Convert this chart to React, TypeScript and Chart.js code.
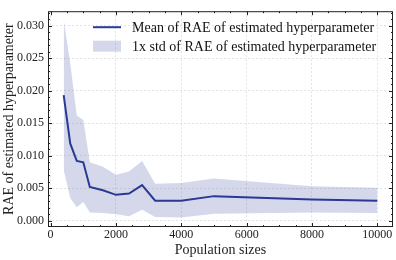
import React, { useEffect, useRef } from "react";
import { Chart, registerables } from "chart.js";

Chart.register(...registerables);

const populationSizes = [400, 600, 800, 1000, 1200, 1600, 2000, 2400, 2800, 3200, 4000, 5000, 8000, 10000];
const meanRAE = [0.0193, 0.0119, 0.0092, 0.009, 0.0052, 0.0047, 0.004, 0.0042, 0.0055, 0.0031, 0.0031, 0.0038, 0.0033, 0.0031];
const upperRAE = [0.0309, 0.0242, 0.0162, 0.0155, 0.009, 0.0083, 0.0071, 0.0076, 0.0092, 0.0057, 0.0058, 0.0065, 0.0053, 0.0051];
const lowerRAE = [0.0078, 0.0035, 0.0021, 0.0029, 0.0013, 0.0012, 0.001, 0.0007, 0.0017, 0.0006, 0.0005, 0.0011, 0.0013, 0.0012];

const xTicks = [0, 2000, 4000, 6000, 8000, 10000];
const yTicks = [0, 0.005, 0.01, 0.015, 0.02, 0.025, 0.03];
const xMinorStep = 500;
const yMinorStep = 0.001;

const legendLabels = ["Mean of RAE of estimated hyperparameter", "1x std of RAE of estimated hyperparameter"];

const LINE_COLOR = "#2a3a94";
const BAND_COLOR = "rgba(42,58,148,0.2)";
const FONT = "'Liberation Serif', 'Times New Roman', serif";

const framePlugin = {
  id: "frameTicks",
  afterDatasetsDraw(chart: any) {
    const { ctx, chartArea: a, scales } = chart;
    const xs = scales.x;
    const ys = scales.y;
    ctx.save();
    ctx.strokeStyle = "#222";
    ctx.lineWidth = 1;
    ctx.strokeRect(a.left + 0.5, a.top + 0.5, a.right - a.left - 1, a.bottom - a.top - 1);
    const tick = (x1: number, y1: number, x2: number, y2: number) => {
      ctx.beginPath();
      ctx.moveTo(x1, y1);
      ctx.lineTo(x2, y2);
      ctx.stroke();
    };
    for (let v = 0; v <= xs.max; v += xMinorStep) {
      const px = Math.round(xs.getPixelForValue(v)) + 0.5;
      if (px < a.left || px > a.right) continue;
      const major = xTicks.includes(v);
      const len = major ? 4 : 2;
      tick(px, a.bottom, px, a.bottom - len);
      tick(px, a.top, px, a.top + len);
    }
    for (let i = 0; i * yMinorStep <= ys.max + 1e-9; i++) {
      const v = i * yMinorStep;
      const py = Math.round(ys.getPixelForValue(v)) + 0.5;
      if (py < a.top || py > a.bottom) continue;
      const major = i % 5 === 0;
      const len = major ? 4 : 2;
      tick(a.left, py, a.left + len, py);
      tick(a.right, py, a.right - len, py);
    }
    const lx = a.left + 45;
    const lw = 28;
    const y1 = a.top + 16;
    const y2 = a.top + 35;
    ctx.strokeStyle = LINE_COLOR;
    ctx.lineWidth = 2;
    tick(lx, y1, lx + lw, y1);
    ctx.fillStyle = BAND_COLOR;
    ctx.fillRect(lx, y2 - 5.5, lw, 11);
    ctx.fillStyle = "#111";
    ctx.font = `14px ${FONT}`;
    ctx.textBaseline = "middle";
    ctx.textAlign = "left";
    ctx.fillText(legendLabels[0], lx + 39, y1 + 1);
    ctx.fillText(legendLabels[1], lx + 39, y2 + 1);
    ctx.restore();
  },
};

export default function App() {
  const ref = useRef<HTMLCanvasElement | null>(null);
  useEffect(() => {
    document.body.style.margin = "0";
    const canvas = ref.current!;
    const chart = new Chart(canvas, {
      type: "line",
      data: {
        datasets: [
          {
            label: legendLabels[0],
            data: populationSizes.map((x, i) => ({ x, y: meanRAE[i] })),
            borderColor: LINE_COLOR,
            borderWidth: 2,
            pointRadius: 0,
            fill: false,
            tension: 0,
          },
          {
            label: legendLabels[1],
            data: populationSizes.map((x, i) => ({ x, y: upperRAE[i] })),
            borderWidth: 0,
            borderColor: "rgba(0,0,0,0)",
            backgroundColor: BAND_COLOR,
            pointRadius: 0,
            fill: "+1",
          },
          {
            label: "lower",
            data: populationSizes.map((x, i) => ({ x, y: lowerRAE[i] })),
            borderWidth: 0,
            borderColor: "rgba(0,0,0,0)",
            pointRadius: 0,
            fill: false,
          },
        ],
      },
      options: {
        animation: false,
        responsive: false,
        events: [],
        layout: { padding: { left: 0, right: 3, top: 4, bottom: 0 }, autoPadding: false },
        plugins: { legend: { display: false }, tooltip: { enabled: false } },
        scales: {
          x: {
            type: "linear",
            min: -80,
            max: 10480,
            afterBuildTicks: (s: any) => {
              s.ticks = xTicks.map((v) => ({ value: v }));
            },
            afterFit: (s: any) => {
              s.height = 33;
            },
            grid: { color: "rgba(0,0,0,0.14)", drawTicks: false, lineWidth: 0.8 },
            border: { display: false, dash: [2, 2] },
            ticks: {
              padding: 1,
              maxRotation: 0,
              autoSkip: false,
              color: "#222",
              font: { family: FONT, size: 12 },
              callback: (v: any) => String(v),
            },
            title: {
              display: true,
              text: "Population sizes",
              color: "#222",
              font: { family: FONT, size: 14 },
              padding: { top: 0, bottom: 1 },
            },
          },
          y: {
            type: "linear",
            min: -0.00094,
            max: 0.0322,
            afterBuildTicks: (s: any) => {
              s.ticks = yTicks.map((v) => ({ value: v }));
            },
            afterFit: (s: any) => {
              s.width = 48;
            },
            grid: { color: "rgba(0,0,0,0.14)", drawTicks: false, lineWidth: 0.8 },
            border: { display: false, dash: [2, 2] },
            ticks: {
              padding: 4,
              autoSkip: false,
              color: "#222",
              font: { family: FONT, size: 12 },
              callback: (v: any) => Number(v).toFixed(3),
            },
            title: {
              display: true,
              text: "RAE of estimated hyperparameter",
              color: "#222",
              font: { family: FONT, size: 14 },
              padding: { top: 1, bottom: 0 },
            },
          },
        },
      },
      plugins: [framePlugin],
    });
    return () => chart.destroy();
  }, []);
  return <canvas ref={ref} width={396} height={260} style={{ display: "block" }} />;
}
